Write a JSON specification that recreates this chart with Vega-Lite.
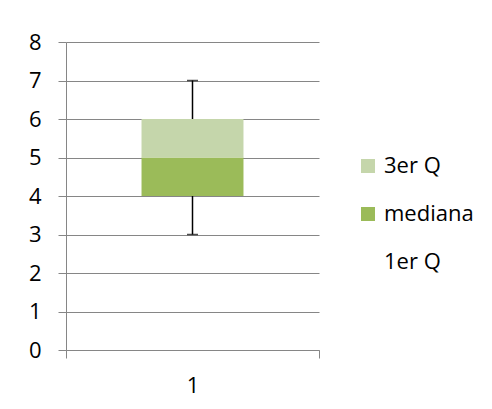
{
  "$schema": "https://vega.github.io/schema/vega-lite/v6.json",
  "width": 253,
  "height": 308,
  "autosize": {"type": "none"},
  "padding": {"left": 66, "top": 42, "right": 173, "bottom": 59},
  "background": "white",
  "config": {
    "view": {"stroke": null},
    "font": "Open Sans",
    "axis": {"labelColor": "#000000", "labelFont": "Open Sans", "labelFontSize": 22, "title": null, "labelOverlap": false}
  },
  "datasets": {
    "barras": [
      {"cat": "1", "serie": "1er Q", "valor": 4, "orden": 1},
      {"cat": "1", "serie": "mediana", "valor": 1, "orden": 2},
      {"cat": "1", "serie": "3er Q", "valor": 1, "orden": 3}
    ],
    "error": [{"cat": "1", "min": 3, "max": 7}]
  },
  "encoding": {
    "x": {
      "field": "cat", "type": "nominal",
      "scale": {"paddingInner": 0, "paddingOuter": 0},
      "axis": {"title": null, "labelAngle": 0, "tickBand": "extent", "tickSize": 8, "domainColor": "#868686", "tickColor": "#868686", "labelPadding": 17, "grid": false}
    }
  },
  "layer": [
    {
      "data": {"name": "barras"},
      "mark": {"type": "bar", "width": {"band": 0.403}},
      "encoding": {
        "y": {"field": "valor", "type": "quantitative", "stack": "zero",
          "scale": {"domain": [0, 8], "nice": false, "zero": true},
          "axis": {"title": null, "values": [0, 1, 2, 3, 4, 5, 6, 7, 8], "format": "d", "tickCount": 12, "tickSize": 8, "grid": true, "gridColor": "#868686", "domainColor": "#868686", "tickColor": "#868686", "labelPadding": 17, "labelOverlap": false}},
        "order": {"field": "orden", "type": "quantitative"},
        "color": {
          "field": "serie", "type": "nominal",
          "scale": {"domain": ["3er Q", "mediana", "1er Q"], "range": ["#C5D6AB", "#9BBB59", "rgba(0,0,0,0)"]},
          "legend": {"title": null, "orient": "none", "legendX": 291, "legendY": 113, "padding": 0, "symbolType": "square", "symbolSize": 196, "symbolStrokeWidth": 0, "labelFont": "Open Sans", "labelFontSize": 22, "labelColor": "#000000", "labelOffset": 5, "rowPadding": 26}
        }
      }
    },
    {
      "data": {"name": "error"},
      "mark": {"type": "rule", "color": "#000000", "strokeWidth": 1.5},
      "encoding": {
        "y": {"field": "max", "type": "quantitative"},
        "y2": {"datum": 6}
      }
    },
    {
      "data": {"name": "error"},
      "mark": {"type": "rule", "color": "#000000", "strokeWidth": 1.5},
      "encoding": {
        "y": {"field": "min", "type": "quantitative"},
        "y2": {"datum": 4}
      }
    },
    {
      "data": {"name": "error"},
      "mark": {"type": "tick", "color": "#000000", "thickness": 1.5, "size": 11},
      "encoding": {
        "y": {"field": "min", "type": "quantitative"}
      }
    },
    {
      "data": {"name": "error"},
      "mark": {"type": "tick", "color": "#000000", "thickness": 1.5, "size": 11},
      "encoding": {
        "y": {"field": "max", "type": "quantitative"}
      }
    }
  ]
}
